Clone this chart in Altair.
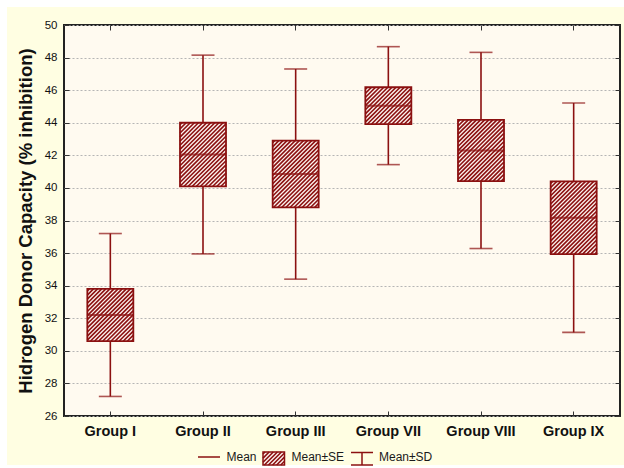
import altair as alt
import pandas as pd

# Summary statistics per group
groups = ["Group I", "Group II", "Group III", "Group VII", "Group VIII", "Group IX"]
means = [32.2, 42.05, 40.85, 45.05, 42.3, 38.17]
se = [1.6, 1.95, 2.05, 1.13, 1.88, 2.23]
sd = [5.0, 6.1, 6.45, 3.62, 6.02, 7.04]

y_ticks = list(range(26, 51, 2))
legend_labels = ["Mean", "Mean\u00b1SE", "Mean\u00b1SD"]
y_title = "Hidrogen Donor Capacity (% inhibition)"

# Layout / style
W, H = 556, 391
Y_MIN, Y_MAX = 26, 50
PXU = H / (Y_MAX - Y_MIN)        # pixels per y unit
PXI = W / len(groups)            # pixels per group band
BOX_W = 46
CAP_W = 23
PU = 4.1                          # horizontal spacing of hatch lines (px)
HATCH_W = 1.6
RED = "#8b1010"
LIGHT = "#fdf3ef"
FONT = "Liberation Sans"

df = pd.DataFrame({"group": groups, "mean": means, "se": se, "sd": sd})
df["idx"] = range(len(groups))
df["se_lo"] = df["mean"] - df["se"]
df["se_hi"] = df["mean"] + df["se"]
df["sd_lo"] = df["mean"] - df["sd"]
df["sd_hi"] = df["mean"] + df["sd"]

xscale = alt.Scale(domain=groups, paddingInner=0, paddingOuter=0)
yscale = alt.Scale(domain=[Y_MIN, Y_MAX], nice=False, zero=False)

bottom_axis = alt.Axis(orient="bottom", offset=-5, tickSize=5, domain=False,
                       tickColor="#333", labelAngle=0, labelFontSize=14.5,
                       labelFontWeight="bold", labelColor="#111",
                       labelPadding=8, title=None, grid=False)
top_axis = alt.Axis(orient="top", offset=-5, tickSize=5, domain=False,
                    tickColor="#333", labels=False, title=None, grid=False)
left_axis = alt.Axis(orient="left", values=y_ticks, offset=-5, tickSize=5,
                     domain=False, tickColor="#333", labelFontSize=11.5,
                     labelColor="#111", labelPadding=7, grid=True,
                     gridColor="#b5b5b5", gridDash=[2, 2], gridWidth=1,
                     title=y_title, titleFontSize=18.5, titleFontWeight="bold",
                     titleColor="#111", titleAngle=270, titleAlign="center",
                     titleBaseline="alphabetic", titleX=-38, titleY=H / 2)
right_axis = alt.Axis(orient="right", values=y_ticks, offset=-5, tickSize=5,
                      domain=False, tickColor="#333", labels=False,
                      title=None, grid=False)

base = alt.Chart(df)
one = pd.DataFrame({"k": [0]})

# white margin strips along the top, left and bottom edges
def strip(x0, x1, y0, y1):
    return alt.Chart(one).mark_rect(color="white").encode(
        x=alt.value(x0), x2=alt.value(x1), y=alt.value(y0), y2=alt.value(y1))

strips = [strip(-64, W + 4, -25, -18), strip(-64, -57, -25, H + 52),
          strip(-64, W + 4, H + 49, H + 52)]

whisker = base.mark_rule(color=RED, strokeWidth=1.6).encode(
    x=alt.X("group:N", scale=xscale, axis=bottom_axis),
    y=alt.Y("sd_lo:Q", scale=yscale, axis=left_axis),
    y2="sd_hi:Q",
)

caps = base.transform_fold(["sd_lo", "sd_hi"], as_=["which", "val"]).mark_tick(
    color=RED, size=CAP_W, thickness=1.6
).encode(
    x=alt.X("group:N", scale=xscale, axis=top_axis),
    y=alt.Y("val:Q", scale=yscale, axis=right_axis),
)

box_fill = base.mark_bar(size=BOX_W, color=LIGHT).encode(
    x=alt.X("group:N", scale=xscale, axis=None),
    y=alt.Y("se_lo:Q", scale=yscale, axis=None),
    y2="se_hi:Q",
)

# diagonal hatch lines, clipped to each Mean±SE box
hatch = (
    base.transform_calculate(hpx=f"(datum.se_hi - datum.se_lo) * {PXU}")
    .transform_calculate(k=f"sequence(0, ceil(({BOX_W} + datum.hpx) / {PU}))")
    .transform_flatten(["k"])
    .transform_calculate(c=f"-datum.hpx + (datum.k + 0.5) * {PU}")
    .transform_calculate(u1="max(0, datum.c)")
    .transform_calculate(u2=f"min({BOX_W}, datum.hpx + datum.c)")
    .transform_filter("datum.u2 > datum.u1")
    .transform_calculate(xs=f"datum.idx - {BOX_W / 2 / PXI} + datum.u1 / {PXI}")
    .transform_calculate(xe=f"datum.idx - {BOX_W / 2 / PXI} + datum.u2 / {PXI}")
    .transform_calculate(ys=f"datum.se_lo + (datum.u1 - datum.c) / {PXU}")
    .transform_calculate(ye=f"datum.se_lo + (datum.u2 - datum.c) / {PXU}")
    .mark_rule(color=RED, strokeWidth=HATCH_W)
    .encode(
        x=alt.X("xs:Q", scale=alt.Scale(domain=[-0.5, len(groups) - 0.5],
                                        nice=False, zero=False), axis=None),
        x2="xe:Q",
        y=alt.Y("ys:Q", scale=yscale, axis=None),
        y2="ye:Q",
    )
)

box_edge = base.mark_bar(size=BOX_W, fillOpacity=0, stroke=RED,
                         strokeWidth=1.8).encode(
    x=alt.X("group:N", scale=xscale, axis=None),
    y=alt.Y("se_lo:Q", scale=yscale, axis=None),
    y2="se_hi:Q",
)

mean_line = base.mark_tick(color=RED, size=BOX_W, thickness=2).encode(
    x=alt.X("group:N", scale=xscale, axis=None),
    y=alt.Y("mean:Q", scale=yscale, axis=None),
)

# legend row under the x axis
LY = 432
SW_X0, SW_X1, SW_Y0, SW_Y1 = 199, 220.5, 427, 440
sw_w, sw_h = SW_X1 - SW_X0, SW_Y1 - SW_Y0

swatch_fill = alt.Chart(one).mark_rect(fill=LIGHT).encode(
    x=alt.value(SW_X0), x2=alt.value(SW_X1), y=alt.value(SW_Y0), y2=alt.value(SW_Y1))
swatch_hatch = (
    alt.Chart(one)
    .transform_calculate(k=f"sequence(0, ceil(({sw_w} + {sw_h}) / {PU}))")
    .transform_flatten(["k"])
    .transform_calculate(c=f"-{sw_h} + (datum.k + 0.5) * {PU}")
    .transform_calculate(u1="max(0, datum.c)")
    .transform_calculate(u2=f"min({sw_w}, {sw_h} + datum.c)")
    .transform_filter("datum.u2 > datum.u1")
    .transform_calculate(px1=f"{SW_X0} + datum.u1", px2=f"{SW_X0} + datum.u2")
    .transform_calculate(py1=f"{SW_Y1} - (datum.u1 - datum.c)",
                         py2=f"{SW_Y1} - (datum.u2 - datum.c)")
    .mark_rule(color=RED, strokeWidth=HATCH_W)
    .encode(x=alt.X("px1:Q", scale=None), x2="px2:Q",
            y=alt.Y("py1:Q", scale=None), y2="py2:Q")
)
swatch_edge = alt.Chart(one).mark_rect(fillOpacity=0, stroke=RED, strokeWidth=1.5).encode(
    x=alt.value(SW_X0), x2=alt.value(SW_X1), y=alt.value(SW_Y0), y2=alt.value(SW_Y1))

leg = [
    alt.Chart(one).mark_rule(color=RED, strokeWidth=1.5).encode(
        x=alt.value(134), x2=alt.value(156), y=alt.value(LY)),
    swatch_fill, swatch_hatch, swatch_edge,
    alt.Chart(one).mark_rule(color=RED, strokeWidth=1.5).encode(
        x=alt.value(287), x2=alt.value(309), y=alt.value(427.5)),
    alt.Chart(one).mark_rule(color=RED, strokeWidth=1.5).encode(
        x=alt.value(287), x2=alt.value(309), y=alt.value(440)),
    alt.Chart(one).mark_rule(color=RED, strokeWidth=1.5).encode(
        x=alt.value(298), y=alt.value(427.5), y2=alt.value(440)),
]
for lbl, xpos in zip(legend_labels, [162.5, 227.5, 315]):
    leg.append(
        alt.Chart(one).mark_text(align="left", baseline="middle", fontSize=12,
                                 font=FONT, color="#1a1a1a", text=lbl).encode(
            x=alt.value(xpos), y=alt.value(LY))
    )

chart = alt.layer(
    *strips, whisker, caps, box_fill, hatch, box_edge, mean_line, *leg
).resolve_scale(x="independent").properties(
    width=W, height=H,
    autosize=alt.AutoSizeParams(type="none"),
    padding={"left": 64, "top": 25, "right": 4, "bottom": 52},
    background="#fffee2",
).configure(font=FONT).configure_view(
    fill="#fffaf0", stroke="#222222", strokeWidth=2
)

chart.save("out.html", embed_options={"renderer": "svg", "actions": False})
